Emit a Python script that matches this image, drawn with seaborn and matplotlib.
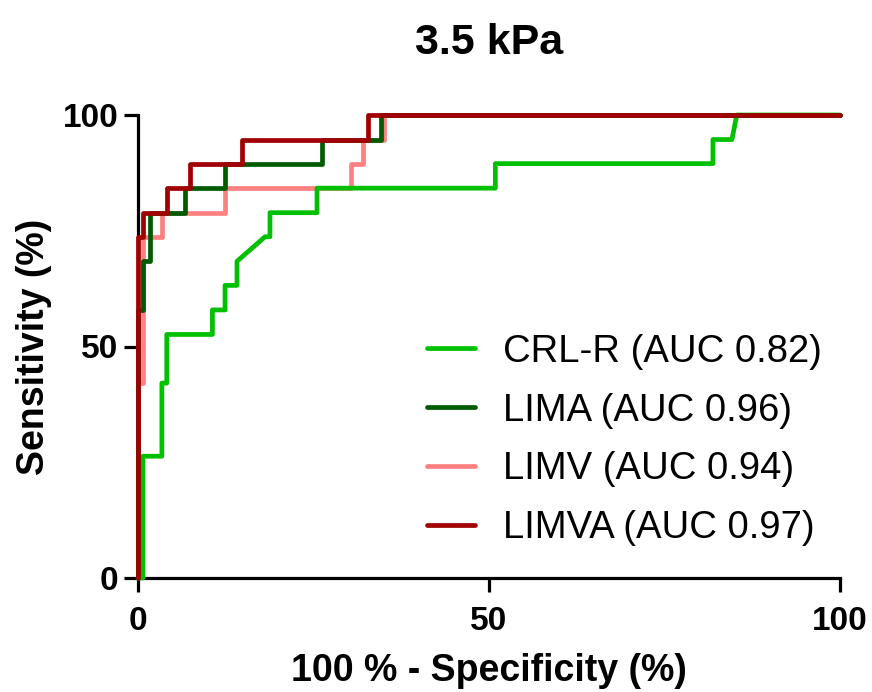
import matplotlib
matplotlib.use("Agg")
import matplotlib.pyplot as plt
import seaborn as sns
import pandas as pd

# ROC step curves (100 % - specificity, sensitivity)
crl_x = [0, 0.7, 0.7, 3.4, 3.4, 4.1, 4.1, 10.6, 10.6, 12.4, 12.4, 14.1, 14.1,
         18.1, 18.8, 18.8, 25.5, 25.5, 50.9, 50.9, 81.9, 81.9, 84.6, 85.3, 100]
crl_y = [0, 0, 26.3, 26.3, 42.1, 42.1, 52.6, 52.6, 57.9, 57.9, 63.2, 63.2, 68.4,
         73.7, 73.7, 78.9, 78.9, 84.2, 84.2, 89.5, 89.5, 94.7, 94.7, 100, 100]

lima_x = [0, 0, 0.7, 0.7, 1.7, 1.7, 6.7, 6.7, 12.4, 12.4, 26.2, 26.2, 34.6, 34.6, 100]
lima_y = [0, 57.9, 57.9, 68.4, 68.4, 78.9, 78.9, 84.2, 84.2, 89.5, 89.5, 94.7, 94.7, 100, 100]

limv_x = [0, 0, 0.7, 0.7, 3.4, 3.4, 12.4, 12.4, 30.4, 30.4, 32.1, 32.1, 35.1, 35.1, 100]
limv_y = [0, 42.1, 42.1, 73.7, 73.7, 78.9, 78.9, 84.2, 84.2, 89.5, 89.5, 94.7, 94.7, 100, 100]

limva_x = [0, 0, 0.7, 0.7, 4.1, 4.1, 7.4, 7.4, 14.8, 14.8, 32.8, 32.8, 100]
limva_y = [0, 73.7, 73.7, 78.9, 78.9, 84.2, 84.2, 89.5, 89.5, 94.7, 94.7, 100, 100]

labels = ["CRL-R (AUC 0.82)", "LIMA (AUC 0.96)", "LIMV (AUC 0.94)", "LIMVA (AUC 0.97)"]
colors = ["#00C000", "#005A00", "#FF8080", "#A00000"]
zorders = [3, 4, 2, 5]
ticks = [0, 50, 100]

sns.set_style("ticks")
plt.rcParams['font.family'] = ['Liberation Sans', 'DejaVu Sans']
plt.rcParams['text.color'] = 'black'
plt.rcParams['axes.labelcolor'] = 'black'

fig = plt.figure(figsize=(8.72, 6.92), dpi=100)
ax = fig.add_axes([138 / 872, 1 - 578 / 692, 702 / 872, 463 / 692])

series = [(crl_x, crl_y), (lima_x, lima_y), (limv_x, limv_y), (limva_x, limva_y)]
for (xs, ys), lab, col, z in zip(series, labels, colors, zorders):
    df = pd.DataFrame({"fpr": xs, "sens": ys})
    sns.lineplot(data=df, x="fpr", y="sens", sort=False, estimator=None,
                 color=col, linewidth=3.4, label=lab, ax=ax, zorder=z,
                 clip_on=False)

ax.set_xlim(0, 100)
ax.set_ylim(0, 100)
ax.set_xticks(ticks)
ax.set_yticks(ticks)
sns.despine(ax=ax)
for side in ["left", "bottom"]:
    ax.spines[side].set_linewidth(2.3)
    ax.spines[side].set_color("black")
ax.tick_params(axis="both", length=10, width=2.3, colors="black",
               labelsize=24)
ax.tick_params(axis="x", pad=10)
ax.tick_params(axis="y", pad=4)
for t in ax.get_xticklabels() + ax.get_yticklabels():
    t.set_fontweight("bold")

ax.set_xlabel("100 % - Specificity (%)", fontsize=27, fontweight="bold", labelpad=12)
ax.set_ylabel("Sensitivity (%)", fontsize=27, fontweight="bold", labelpad=8)
ax.set_title("3.5 kPa", fontsize=31, fontweight="bold", pad=44)

leg = ax.legend(loc="center left", bbox_to_anchor=(427 / 872, 1 - 440 / 692),
                bbox_transform=fig.transFigure, frameon=False, fontsize=27.5,
                handlelength=1.25, handletextpad=0.75, labelspacing=0.6,
                borderpad=0, borderaxespad=0)

fig.savefig("out.png", dpi=100)
